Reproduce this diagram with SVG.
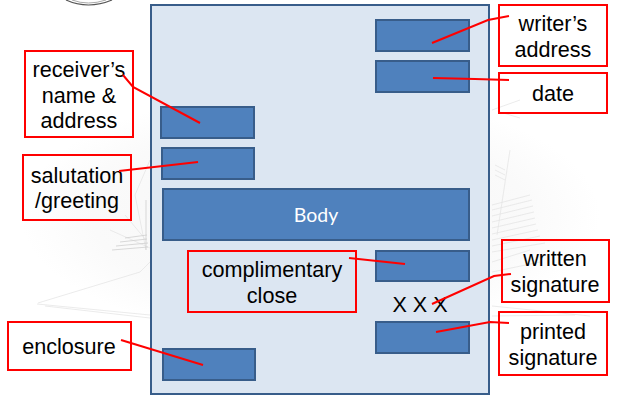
<svg xmlns="http://www.w3.org/2000/svg" width="620" height="403" viewBox="0 0 620 403">
<style>
.bg{fill:none;stroke:#e2e2e2;stroke-width:.7}
.bg2{fill:none;stroke:#cfcfcf;stroke-width:.8}
.page{fill:#dce6f2;stroke:#385d8a;stroke-width:2}
.box{fill:#4f81bd;stroke:#385d8a;stroke-width:2}
.call{fill:none;stroke:#f00;stroke-width:2}
.lead{fill:none;stroke:#f00;stroke-width:2}
text{font-family:"Liberation Sans",Arial,sans-serif;font-size:21.6px;fill:#000;text-anchor:middle}
.w{font-family:Lato,"Open Sans",sans-serif;font-size:19.5px;fill:#fff}
</style>
<defs>
<radialGradient id="haze" cx=".5" cy=".5" r=".5"><stop offset="0" stop-color="#f5f5f5"/><stop offset=".75" stop-color="#fafafa"/><stop offset="1" stop-color="#fff"/></radialGradient>
</defs>
<g id="background">
<ellipse cx="310" cy="215" rx="290" ry="125" fill="url(#haze)"/>
<path d="M66 0Q88 10 112 0" fill="none" stroke="#555" stroke-width="1.2"/>
<path d="M72 0Q88 6 106 0" fill="none" stroke="#aaa" stroke-width="1"/>
<path class="bg" d="M38 303L140 272L150 262M37 304L150 315M45 306L150 318"/>
<path class="bg" d="M110 230L150 248M125 215L146 240M150 160L135 195L146 250"/>
<path class="bg2" d="M112 250L148 247M116 246L148 243M120 242L147 239M125 238L147 235M146 200L146 250"/>
<path class="bg" d="M492 110L520 100M500 112L520 118M492 205L530 195M492 210L532 200M492 216L533 206M492 222L534 212M492 228L535 218M492 234L536 224M492 240L538 230M492 246L540 236M492 252L545 243M492 262L530 250M492 272L540 262M497 235L510 150M495 165L505 170M495 170L505 175M495 175L505 180M492 316L575 315M492 306L590 316"/>
</g>
<g id="page"><rect class="page" x="151" y="5" width="338" height="389"/></g>
<g id="blocks">
<rect id="writer-block" class="box" x="376" y="20" width="93" height="31"/>
<rect id="date-block" class="box" x="376" y="61" width="93" height="31"/>
<rect id="receiver-block" class="box" x="161" y="107" width="93" height="31"/>
<rect id="salutation-block" class="box" x="162" y="148" width="92" height="31"/>
<g id="body"><rect class="box" x="163" y="189" width="306" height="51"/><text class="w" x="316" y="222">Body</text></g>
<rect id="close-block" class="box" x="376" y="251" width="93" height="30"/>
<rect id="printed-block" class="box" x="376" y="322" width="93" height="31"/>
<rect id="enclosure-block" class="box" x="163" y="349" width="92" height="31"/>
</g>
<text id="xxx" x="420" y="312">X X X</text>
<g id="receiver"><rect class="call" x="25" y="51" width="108" height="86"/><text x="79" y="77">receiver’s</text><text x="79" y="103">name &amp;</text><text x="79" y="128">address</text></g>
<g id="salutation"><rect class="call" x="23" y="155" width="108" height="65"/><text x="77" y="183">salutation</text><text x="77" y="208">/greeting</text></g>
<g id="writer"><rect class="call" x="499" y="5" width="108" height="61"/><text x="553" y="31">writer’s</text><text x="553" y="57">address</text></g>
<g id="date"><rect class="call" x="499" y="73" width="108" height="40"/><text x="553" y="101">date</text></g>
<g id="complimentary"><rect class="call" x="188" y="251" width="168" height="61"/><text x="272" y="277">complimentary</text><text x="272" y="303">close</text></g>
<g id="written"><rect class="call" x="502" y="240" width="107" height="62"/><text x="555" y="266">written</text><text x="555" y="292">signature</text></g>
<g id="printed"><rect class="call" x="499" y="312" width="108" height="63"/><text x="553" y="339">printed</text><text x="553" y="365">signature</text></g>
<g id="enclosure"><rect class="call" x="8" y="322" width="123" height="48"/><text x="69" y="354">enclosure</text></g>
<g id="connectors">
<path class="lead" d="M123 75L133 87L200 123"/>
<path class="lead" d="M119 171L198 162"/>
<path class="lead" d="M509 16L488 20L432 43"/>
<path class="lead" d="M509 80L475 79L433 78"/>
<path class="lead" d="M349 258L405 264"/>
<path class="lead" d="M511 274L494 276L432 304"/>
<path class="lead" d="M509 323L490 322L436 332"/>
<path class="lead" d="M121 340L203 365"/>
</g>
</svg>
